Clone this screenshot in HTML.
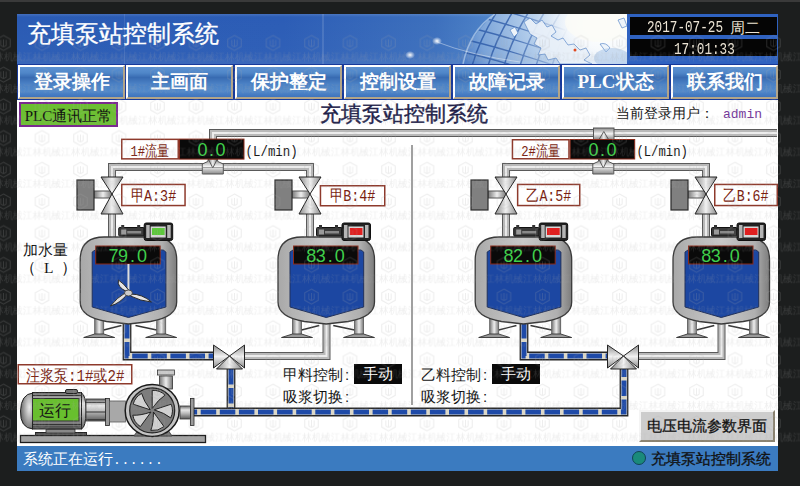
<!DOCTYPE html>
<html><head><meta charset="utf-8">
<style>
html,body{margin:0;padding:0;}
body{width:800px;height:486px;overflow:hidden;background:#1c1e1e;position:relative;font-family:"Liberation Sans",sans-serif;}
.a{position:absolute;white-space:nowrap;}
#screen{position:absolute;left:17px;top:14px;width:761px;height:457px;background:#fff;}
#nav{position:absolute;left:17px;top:64px;width:761px;height:36px;background:#17399a;}
.btn{position:absolute;top:1px;height:34px;width:107px;box-sizing:border-box;border-top:2px solid #fff;border-left:2px solid #fff;border-right:2px solid #b3a588;border-bottom:2px solid #b3a588;
background:linear-gradient(180deg,#5d92d2 0%,#4f86c8 20%,#386bb2 35%,#4a80c4 55%,#5189cb 80%,#3f74bc 100%);
color:#fff;font-weight:bold;font-size:19px;line-height:30px;text-align:center;font-family:"Liberation Serif",serif;}
#status{position:absolute;left:17px;top:446px;width:761px;height:25px;background:#3b7bc0;}
svg{position:absolute;left:0;top:0;}
.t15{font-size:15px;line-height:18px;color:#111;}
</style></head>
<body>
<div class="a" style="left:0;top:0;width:800px;height:2px;background:#3a3a3a"></div>
<div id="screen"></div>
<svg width="800" height="486" viewBox="0 0 800 486"><defs>
<linearGradient id="tb" x1="0" y1="0" x2="1" y2="0"><stop offset="0" stop-color="#2a5bb4"/><stop offset="0.35" stop-color="#2c5db6"/><stop offset="0.55" stop-color="#3d70bd"/><stop offset="0.62" stop-color="#4d82c8"/><stop offset="1" stop-color="#5a8fd0"/></linearGradient>
<linearGradient id="tbv" x1="0" y1="0" x2="0" y2="1"><stop offset="0" stop-color="#fff" stop-opacity="0.12"/><stop offset="0.06" stop-color="#fff" stop-opacity="0"/><stop offset="0.8" stop-color="#fff" stop-opacity="0.02"/><stop offset="1" stop-color="#fff" stop-opacity="0.08"/></linearGradient>
<radialGradient id="globe" cx="0.62" cy="0.12" r="0.6"><stop offset="0" stop-color="#ffffff"/><stop offset="0.25" stop-color="#eef4fa"/><stop offset="0.55" stop-color="#b0cbea"/><stop offset="0.85" stop-color="#7aa3d8"/><stop offset="1" stop-color="#4a7cc6"/></radialGradient>
<radialGradient id="glow" cx="0.5" cy="0.5" r="0.5"><stop offset="0" stop-color="#fff" stop-opacity="1"/><stop offset="1" stop-color="#fff" stop-opacity="0"/></radialGradient>
<clipPath id="tclip"><rect x="17" y="14" width="761" height="50"/></clipPath>
<clipPath id="gclip"><circle cx="580" cy="112" r="130"/></clipPath>
</defs><g clip-path="url(#tclip)"><rect x="17" y="14" width="761" height="50" fill="url(#tb)"/><rect x="17" y="14" width="761" height="50" fill="url(#tbv)"/><rect x="322" y="14" width="2" height="50" fill="#fff" opacity="0.12"/><rect x="124" y="14" width="1" height="50" fill="#fff" opacity="0.10"/><circle cx="580" cy="112" r="130" fill="url(#globe)"/><defs><linearGradient id="gfade" x1="0" y1="0" x2="1" y2="0"><stop offset="0" stop-color="#fff"/><stop offset="0.55" stop-color="#fff"/><stop offset="1" stop-color="#fff" stop-opacity="0"/></linearGradient><mask id="gmask"><rect x="440" y="14" width="130" height="50" fill="url(#gfade)"/></mask></defs><g clip-path="url(#gclip)"><g mask="url(#gmask)" opacity="0.7"><path d="M472,66 Q480,38 498,10" fill="none" stroke="#1f4ea0" stroke-width="1.5"/><path d="M488,66 Q496,38 514,10" fill="none" stroke="#1f4ea0" stroke-width="1.5"/><path d="M504,66 Q512,38 530,10" fill="none" stroke="#1f4ea0" stroke-width="1.5"/><path d="M520,66 Q528,38 546,10" fill="none" stroke="#1f4ea0" stroke-width="1.5"/><path d="M536,66 Q544,38 562,10" fill="none" stroke="#1f4ea0" stroke-width="1.5"/><path d="M552,66 Q560,38 578,10" fill="none" stroke="#1f4ea0" stroke-width="1.5"/><path d="M462,0 Q500,8 565,30" fill="none" stroke="#1f4ea0" stroke-width="1.4"/><path d="M462,13 Q500,21 565,43" fill="none" stroke="#1f4ea0" stroke-width="1.4"/><path d="M462,26 Q500,34 565,56" fill="none" stroke="#1f4ea0" stroke-width="1.4"/><path d="M462,39 Q500,47 565,69" fill="none" stroke="#1f4ea0" stroke-width="1.4"/><path d="M462,52 Q500,60 565,82" fill="none" stroke="#1f4ea0" stroke-width="1.4"/><path d="M462,65 Q500,73 565,95" fill="none" stroke="#1f4ea0" stroke-width="1.4"/><path d="M462,78 Q500,86 565,108" fill="none" stroke="#1f4ea0" stroke-width="1.4"/></g></g><ellipse cx="598" cy="26" rx="62" ry="44" fill="url(#glow)" opacity="1"/><ellipse cx="600" cy="22" rx="35" ry="20" fill="#fbfbf6" opacity="0.8"/><path d="M524,22 L530,18 L536,24 L542,20 L547,27 L552,25 L556,32 L551,36 L558,40 L563,38 L568,45 L574,44 L580,50 L586,48 L590,55 L584,60 L592,64 L560,64 L556,58 L548,60 L545,54 L538,55 L541,48 L534,44 L537,38 L530,34 Z" fill="#eaf1f9" stroke="#4f7fc4" stroke-width="0.7" opacity="0.9"/><path d="M510,30 L515,27 L518,33 L514,37 Z M600,44 Q606,42 610,48 L606,52 Z M618,20 L624,18 L627,26 L622,28 Z" fill="#eef4fa" stroke="#5a88c8" stroke-width="0.7"/><path d="M463,64 Q470,30 495,14" fill="none" stroke="#c8dcf2" stroke-width="1.5" opacity="0.6"/><ellipse cx="612" cy="58" rx="18" ry="10" fill="#9fc0e6" opacity="0.5"/><circle cx="575" cy="50" r="1.5" fill="#e04a20"/><ellipse cx="437" cy="41" rx="5" ry="4" fill="url(#glow)"/><ellipse cx="410" cy="55" rx="5" ry="4" fill="url(#glow)"/><path d="M437,42 Q470,55 520,62" fill="none" stroke="#fff" stroke-width="0.8" opacity="0.5"/><rect x="627" y="14" width="151" height="50" fill="#2f62c0"/></g></svg>
<div class="a" style="left:27px;top:19px;color:#fff;font-size:24px;line-height:30px;-webkit-text-stroke:0.3px #fff;">充填泵站控制系统</div>
<div class="a" style="left:630px;top:17px;width:147px;height:18px;background:#050505;"></div><div class="a" style="left:647px;top:18px;color:#ece4d4;font-size:17px;line-height:18px;"><span style="display:inline-block;font-family:'Liberation Mono',monospace;transform:scaleX(0.745);transform-origin:0 0;width:83px;">2017-07-25</span><span style="display:inline-block;font-size:15px;vertical-align:top;line-height:19px;">周二</span></div>
<div class="a" style="left:630px;top:39px;width:147px;height:17px;background:#050505;"></div><div class="a" style="left:674px;top:40px;color:#ece4d4;font-size:17px;line-height:18px;"><span style="display:inline-block;font-family:'Liberation Mono',monospace;transform:scaleX(0.745);transform-origin:0 0;">17:01:33</span></div>
<div id="nav">
  <div class="btn" style="left:1px">登录操作</div>
  <div class="btn" style="left:109px">主画面</div>
  <div class="btn" style="left:218px">保护整定</div>
  <div class="btn" style="left:327px">控制设置</div>
  <div class="btn" style="left:436px">故障记录</div>
  <div class="btn" style="left:545px">PLC状态</div>
  <div class="btn" style="left:654px">联系我们</div>
</div>
<svg width="800" height="486" viewBox="0 0 800 486"><defs>
<linearGradient id="pg" x1="0" y1="0" x2="1" y2="0"><stop offset="0" stop-color="#777"/><stop offset="0.5" stop-color="#eee"/><stop offset="1" stop-color="#777"/></linearGradient>
<linearGradient id="vg" x1="0" y1="0" x2="1" y2="0"><stop offset="0" stop-color="#8a8a8a"/><stop offset="0.5" stop-color="#f2f2f2"/><stop offset="1" stop-color="#8a8a8a"/></linearGradient>
<linearGradient id="vg2" x1="0" y1="0" x2="0" y2="1"><stop offset="0" stop-color="#8a8a8a"/><stop offset="0.5" stop-color="#f2f2f2"/><stop offset="1" stop-color="#8a8a8a"/></linearGradient>
<linearGradient id="tg" x1="0" y1="0" x2="1" y2="0"><stop offset="0" stop-color="#a8a8a8"/><stop offset="0.15" stop-color="#b4b4b4"/><stop offset="0.5" stop-color="#c8c8c8"/><stop offset="0.85" stop-color="#b0b0b0"/><stop offset="1" stop-color="#7c7c7c"/></linearGradient>
</defs><rect x="411" y="145" width="2" height="260" fill="#a0a0a0"/><path d="M213,167 L213,133 L777,133" fill="none" stroke="#5a5a5a" stroke-width="8" stroke-linejoin="miter"/><path d="M213,167 L213,133 L777,133" fill="none" stroke="#b9b9b9" stroke-width="6" stroke-linejoin="miter"/><path d="M213,167 L213,133 L777,133" fill="none" stroke="#ececec" stroke-width="2" stroke-linejoin="miter"/><path d="M112,178 L112,167 L310,167 L310,178" fill="none" stroke="#5a5a5a" stroke-width="8" stroke-linejoin="miter"/><path d="M112,178 L112,167 L310,167 L310,178" fill="none" stroke="#b9b9b9" stroke-width="6" stroke-linejoin="miter"/><path d="M112,178 L112,167 L310,167 L310,178" fill="none" stroke="#ececec" stroke-width="2" stroke-linejoin="miter"/><path d="M603,133 L603,167" fill="none" stroke="#5a5a5a" stroke-width="8" stroke-linejoin="miter"/><path d="M603,133 L603,167" fill="none" stroke="#b9b9b9" stroke-width="6" stroke-linejoin="miter"/><path d="M603,133 L603,167" fill="none" stroke="#ececec" stroke-width="2" stroke-linejoin="miter"/><path d="M506,178 L506,167 L706,167 L706,178" fill="none" stroke="#5a5a5a" stroke-width="8" stroke-linejoin="miter"/><path d="M506,178 L506,167 L706,167 L706,178" fill="none" stroke="#b9b9b9" stroke-width="6" stroke-linejoin="miter"/><path d="M506,178 L506,167 L706,167 L706,178" fill="none" stroke="#ececec" stroke-width="2" stroke-linejoin="miter"/><path d="M202.3,174 L202.3,164 L207.8,161.5 L208.3,159 L217.3,159 L217.8,161.5 L223.3,164 L223.3,174 Z" fill="url(#vg2)" stroke="#555" stroke-width="1"/><path d="M208.3,159 L212.8,168 L217.3,159 Z" fill="url(#pg)" stroke="#444" stroke-width="0.8"/><line x1="202.3" y1="167.5" x2="223.3" y2="167.5" stroke="#777" stroke-width="0.6"/><path d="M592.8,174 L592.8,164 L598.3,161.5 L598.8,159 L607.8,159 L608.3,161.5 L613.8,164 L613.8,174 Z" fill="url(#vg2)" stroke="#555" stroke-width="1"/><path d="M598.8,159 L603.3,168 L607.8,159 Z" fill="url(#pg)" stroke="#444" stroke-width="0.8"/><line x1="592.8" y1="167.5" x2="613.8" y2="167.5" stroke="#777" stroke-width="0.6"/><rect x="593.5" y="128" width="20.5" height="11.5" fill="url(#vg2)" stroke="#555" stroke-width="1"/><path d="M599,139.5 L603.8,131.5 L608.6,139.5 Z" fill="url(#pg)" stroke="#444" stroke-width="0.8"/><path d="M112,212 L112,237" fill="none" stroke="#5a5a5a" stroke-width="8" stroke-linejoin="miter"/><path d="M112,212 L112,237" fill="none" stroke="#b9b9b9" stroke-width="6" stroke-linejoin="miter"/><path d="M112,212 L112,237" fill="none" stroke="#ececec" stroke-width="2" stroke-linejoin="miter"/><path d="M310,212 L310,237" fill="none" stroke="#5a5a5a" stroke-width="8" stroke-linejoin="miter"/><path d="M310,212 L310,237" fill="none" stroke="#b9b9b9" stroke-width="6" stroke-linejoin="miter"/><path d="M310,212 L310,237" fill="none" stroke="#ececec" stroke-width="2" stroke-linejoin="miter"/><path d="M506,212 L506,237" fill="none" stroke="#5a5a5a" stroke-width="8" stroke-linejoin="miter"/><path d="M506,212 L506,237" fill="none" stroke="#b9b9b9" stroke-width="6" stroke-linejoin="miter"/><path d="M506,212 L506,237" fill="none" stroke="#ececec" stroke-width="2" stroke-linejoin="miter"/><path d="M706,212 L706,237" fill="none" stroke="#5a5a5a" stroke-width="8" stroke-linejoin="miter"/><path d="M706,212 L706,237" fill="none" stroke="#b9b9b9" stroke-width="6" stroke-linejoin="miter"/><path d="M706,212 L706,237" fill="none" stroke="#ececec" stroke-width="2" stroke-linejoin="miter"/><rect x="94" y="191" width="18" height="7" fill="url(#pg)" stroke="#555" stroke-width="1"/><rect x="77" y="180" width="17" height="30" fill="#808080" stroke="#2a2a2a" stroke-width="1.2"/><path d="M101,177 L123,177 L112,194 Z" fill="url(#vg)" stroke="#222" stroke-width="1"/><path d="M101,214 L123,214 L112,194 Z" fill="url(#vg)" stroke="#222" stroke-width="1"/><rect x="292" y="191" width="18" height="7" fill="url(#pg)" stroke="#555" stroke-width="1"/><rect x="275" y="180" width="17" height="30" fill="#808080" stroke="#2a2a2a" stroke-width="1.2"/><path d="M299,177 L321,177 L310,194 Z" fill="url(#vg)" stroke="#222" stroke-width="1"/><path d="M299,214 L321,214 L310,194 Z" fill="url(#vg)" stroke="#222" stroke-width="1"/><rect x="488" y="191" width="18" height="7" fill="url(#pg)" stroke="#555" stroke-width="1"/><rect x="471" y="180" width="17" height="30" fill="#808080" stroke="#2a2a2a" stroke-width="1.2"/><path d="M495,177 L517,177 L506,194 Z" fill="url(#vg)" stroke="#222" stroke-width="1"/><path d="M495,214 L517,214 L506,194 Z" fill="url(#vg)" stroke="#222" stroke-width="1"/><rect x="688" y="191" width="18" height="7" fill="url(#pg)" stroke="#555" stroke-width="1"/><rect x="671" y="180" width="17" height="30" fill="#808080" stroke="#2a2a2a" stroke-width="1.2"/><path d="M695,177 L717,177 L706,194 Z" fill="url(#vg)" stroke="#222" stroke-width="1"/><path d="M695,214 L717,214 L706,194 Z" fill="url(#vg)" stroke="#222" stroke-width="1"/><path d="M127,323 L127,356 L214,356" fill="none" stroke="#262626" stroke-width="8.8" stroke-linejoin="miter"/><path d="M127,323 L127,356 L214,356" fill="none" stroke="#dcd8c8" stroke-width="6.2" stroke-linejoin="miter"/><path d="M127,323 L127,356 L214,356" fill="none" stroke="#1e4aa8" stroke-width="5" stroke-dasharray="15.5 3.6" stroke-dashoffset="0" stroke-linejoin="miter"/><path d="M245,356 L326.5,356 L326.5,323" fill="none" stroke="#5a5a5a" stroke-width="8" stroke-linejoin="miter"/><path d="M245,356 L326.5,356 L326.5,323" fill="none" stroke="#b9b9b9" stroke-width="6" stroke-linejoin="miter"/><path d="M245,356 L326.5,356 L326.5,323" fill="none" stroke="#ececec" stroke-width="2" stroke-linejoin="miter"/><path d="M231,369 L231,412" fill="none" stroke="#262626" stroke-width="8.8" stroke-linejoin="miter"/><path d="M231,369 L231,412" fill="none" stroke="#dcd8c8" stroke-width="6.2" stroke-linejoin="miter"/><path d="M231,369 L231,412" fill="none" stroke="#1e4aa8" stroke-width="5" stroke-dasharray="15.5 3.6" stroke-dashoffset="0" stroke-linejoin="miter"/><path d="M193,412 L624,412 L624,369" fill="none" stroke="#262626" stroke-width="8.8" stroke-linejoin="miter"/><path d="M193,412 L624,412 L624,369" fill="none" stroke="#dcd8c8" stroke-width="6.2" stroke-linejoin="miter"/><path d="M193,412 L624,412 L624,369" fill="none" stroke="#1e4aa8" stroke-width="5" stroke-dasharray="15.5 3.6" stroke-dashoffset="11.4" stroke-linejoin="miter"/><path d="M524,323 L524,356 L608,356" fill="none" stroke="#262626" stroke-width="8.8" stroke-linejoin="miter"/><path d="M524,323 L524,356 L608,356" fill="none" stroke="#dcd8c8" stroke-width="6.2" stroke-linejoin="miter"/><path d="M524,323 L524,356 L608,356" fill="none" stroke="#1e4aa8" stroke-width="5" stroke-dasharray="15.5 3.6" stroke-dashoffset="0" stroke-linejoin="miter"/><path d="M639,356 L721.5,356 L721.5,323" fill="none" stroke="#5a5a5a" stroke-width="8" stroke-linejoin="miter"/><path d="M639,356 L721.5,356 L721.5,323" fill="none" stroke="#b9b9b9" stroke-width="6" stroke-linejoin="miter"/><path d="M639,356 L721.5,356 L721.5,323" fill="none" stroke="#ececec" stroke-width="2" stroke-linejoin="miter"/><path d="M103.7,330 L121.44999999999999,325.5" stroke="#333" stroke-width="1.4"/><rect x="94.7" y="316" width="9" height="19" fill="url(#pg)" stroke="#555" stroke-width="0.8"/><path d="M83.7,337.5 L114.7,337.5 L103.7,334 L94.7,334 Z" fill="#9a9a9a" stroke="#333" stroke-width="0.9"/><path d="M156.7,330 L135.45,325.5" stroke="#333" stroke-width="1.4"/><rect x="156.7" y="316" width="9" height="19" fill="url(#pg)" stroke="#555" stroke-width="0.8"/><path d="M145.7,337.5 L176.7,337.5 L165.7,334 L156.7,334 Z" fill="#9a9a9a" stroke="#333" stroke-width="0.9"/><path d="M80.2,260 Q80.2,237 104.2,237 L152.7,237 Q176.7,237 176.7,260 L176.7,302 Q176.7,317 150.45,321.5 L128.45,324 L106.44999999999999,321.5 Q80.2,317 80.2,302 Z" fill="url(#tg)" stroke="#3a3a3a" stroke-width="1.3"/><path d="M92.2,252 L95.2,250 L163.2,250 L165.89999999999998,252 L165.89999999999998,307 L128.45,317.5 L92.2,307 Z" fill="#1c47a2" stroke="#20305a" stroke-width="1"/><rect x="95.7" y="246" width="64.5" height="18" fill="#0a0a0a" stroke="#8a2a1a" stroke-width="1"/><text x="113.5 123.0 132.5 142.0" y="262.3" text-anchor="middle" font-family='"Liberation Sans", sans-serif' font-size="18" fill="#3fd04a">79.0</text><rect x="127.44999999999999" y="264" width="2" height="29" fill="#ddd"/><path d="M127.44999999999999,292 Q116.44999999999999,287 118.44999999999999,280 Q123.44999999999999,283 129.45,291 Z M127.44999999999999,294 Q120.44999999999999,303 110.44999999999999,306 Q116.44999999999999,298 126.44999999999999,292 Z M130.45,294 Q142.45,294 151.45,302 Q140.45,301 130.45,296 Z" fill="#e4e4e4" stroke="#2a2a2a" stroke-width="1"/><ellipse cx="128.45" cy="293" rx="4" ry="3" fill="#ccc" stroke="#333" stroke-width="0.8"/><rect x="118.7" y="227.5" width="25.5" height="8.5" rx="1" fill="#3a3a3a" stroke="#111" stroke-width="1"/><rect x="121.2" y="229.5" width="5" height="5" fill="#9a9a9a"/><rect x="127.2" y="231" width="14" height="2.5" fill="#888"/><rect x="121.2" y="225" width="3" height="3" fill="#333"/><rect x="137.2" y="225" width="3" height="3" fill="#333"/><rect x="144.2" y="223" width="28.5" height="17.5" rx="2" fill="#222" stroke="#111" stroke-width="1"/><rect x="146.2" y="225" width="3.5" height="13" fill="#b5b5b5"/><rect x="167.2" y="225" width="3.5" height="13" fill="#b5b5b5"/><rect x="150.7" y="226.5" width="15" height="11" fill="#d8d8d8"/><rect x="152.0" y="228" width="12.7" height="7" fill="#5cc83a"/><path d="M301.5,330 L319.25,325.5" stroke="#333" stroke-width="1.4"/><rect x="292.5" y="316" width="9" height="19" fill="url(#pg)" stroke="#555" stroke-width="0.8"/><path d="M281.5,337.5 L312.5,337.5 L301.5,334 L292.5,334 Z" fill="#9a9a9a" stroke="#333" stroke-width="0.9"/><path d="M354.5,330 L333.25,325.5" stroke="#333" stroke-width="1.4"/><rect x="354.5" y="316" width="9" height="19" fill="url(#pg)" stroke="#555" stroke-width="0.8"/><path d="M343.5,337.5 L374.5,337.5 L363.5,334 L354.5,334 Z" fill="#9a9a9a" stroke="#333" stroke-width="0.9"/><path d="M278,260 Q278,237 302,237 L350.5,237 Q374.5,237 374.5,260 L374.5,302 Q374.5,317 348.25,321.5 L326.25,324 L304.25,321.5 Q278,317 278,302 Z" fill="url(#tg)" stroke="#3a3a3a" stroke-width="1.3"/><path d="M290,252 L293,250 L361.0,250 L363.7,252 L363.7,307 L326.25,317.5 L290,307 Z" fill="#1c47a2" stroke="#20305a" stroke-width="1"/><rect x="293.5" y="246" width="64.5" height="18" fill="#0a0a0a" stroke="#8a2a1a" stroke-width="1"/><text x="311.3 320.8 330.3 339.8" y="262.3" text-anchor="middle" font-family='"Liberation Sans", sans-serif' font-size="18" fill="#3fd04a">83.0</text><rect x="316.5" y="227.5" width="25.5" height="8.5" rx="1" fill="#3a3a3a" stroke="#111" stroke-width="1"/><rect x="319" y="229.5" width="5" height="5" fill="#9a9a9a"/><rect x="325" y="231" width="14" height="2.5" fill="#888"/><rect x="319" y="225" width="3" height="3" fill="#333"/><rect x="335" y="225" width="3" height="3" fill="#333"/><rect x="342" y="223" width="28.5" height="17.5" rx="2" fill="#222" stroke="#111" stroke-width="1"/><rect x="344" y="225" width="3.5" height="13" fill="#b5b5b5"/><rect x="365" y="225" width="3.5" height="13" fill="#b5b5b5"/><rect x="348.5" y="226.5" width="15" height="11" fill="#d8d8d8"/><rect x="349.8" y="228" width="12.7" height="7" fill="#e02020"/><path d="M498.7,330 L516.45,325.5" stroke="#333" stroke-width="1.4"/><rect x="489.7" y="316" width="9" height="19" fill="url(#pg)" stroke="#555" stroke-width="0.8"/><path d="M478.7,337.5 L509.7,337.5 L498.7,334 L489.7,334 Z" fill="#9a9a9a" stroke="#333" stroke-width="0.9"/><path d="M551.7,330 L530.45,325.5" stroke="#333" stroke-width="1.4"/><rect x="551.7" y="316" width="9" height="19" fill="url(#pg)" stroke="#555" stroke-width="0.8"/><path d="M540.7,337.5 L571.7,337.5 L560.7,334 L551.7,334 Z" fill="#9a9a9a" stroke="#333" stroke-width="0.9"/><path d="M475.2,260 Q475.2,237 499.2,237 L547.7,237 Q571.7,237 571.7,260 L571.7,302 Q571.7,317 545.45,321.5 L523.45,324 L501.45000000000005,321.5 Q475.2,317 475.2,302 Z" fill="url(#tg)" stroke="#3a3a3a" stroke-width="1.3"/><path d="M487.2,252 L490.2,250 L558.2,250 L560.9000000000001,252 L560.9000000000001,307 L523.45,317.5 L487.2,307 Z" fill="#1c47a2" stroke="#20305a" stroke-width="1"/><rect x="490.7" y="246" width="64.5" height="18" fill="#0a0a0a" stroke="#8a2a1a" stroke-width="1"/><text x="508.5 518.0 527.5 537.0" y="262.3" text-anchor="middle" font-family='"Liberation Sans", sans-serif' font-size="18" fill="#3fd04a">82.0</text><rect x="513.7" y="227.5" width="25.5" height="8.5" rx="1" fill="#3a3a3a" stroke="#111" stroke-width="1"/><rect x="516.2" y="229.5" width="5" height="5" fill="#9a9a9a"/><rect x="522.2" y="231" width="14" height="2.5" fill="#888"/><rect x="516.2" y="225" width="3" height="3" fill="#333"/><rect x="532.2" y="225" width="3" height="3" fill="#333"/><rect x="539.2" y="223" width="28.5" height="17.5" rx="2" fill="#222" stroke="#111" stroke-width="1"/><rect x="541.2" y="225" width="3.5" height="13" fill="#b5b5b5"/><rect x="562.2" y="225" width="3.5" height="13" fill="#b5b5b5"/><rect x="545.7" y="226.5" width="15" height="11" fill="#d8d8d8"/><rect x="547.0" y="228" width="12.7" height="7" fill="#e02020"/><path d="M696.5,330 L714.25,325.5" stroke="#333" stroke-width="1.4"/><rect x="687.5" y="316" width="9" height="19" fill="url(#pg)" stroke="#555" stroke-width="0.8"/><path d="M676.5,337.5 L707.5,337.5 L696.5,334 L687.5,334 Z" fill="#9a9a9a" stroke="#333" stroke-width="0.9"/><path d="M749.5,330 L728.25,325.5" stroke="#333" stroke-width="1.4"/><rect x="749.5" y="316" width="9" height="19" fill="url(#pg)" stroke="#555" stroke-width="0.8"/><path d="M738.5,337.5 L769.5,337.5 L758.5,334 L749.5,334 Z" fill="#9a9a9a" stroke="#333" stroke-width="0.9"/><path d="M673,260 Q673,237 697,237 L745.5,237 Q769.5,237 769.5,260 L769.5,302 Q769.5,317 743.25,321.5 L721.25,324 L699.25,321.5 Q673,317 673,302 Z" fill="url(#tg)" stroke="#3a3a3a" stroke-width="1.3"/><path d="M685,252 L688,250 L756.0,250 L758.7,252 L758.7,307 L721.25,317.5 L685,307 Z" fill="#1c47a2" stroke="#20305a" stroke-width="1"/><rect x="688.5" y="246" width="64.5" height="18" fill="#0a0a0a" stroke="#8a2a1a" stroke-width="1"/><text x="706.3 715.8 725.3 734.8" y="262.3" text-anchor="middle" font-family='"Liberation Sans", sans-serif' font-size="18" fill="#3fd04a">83.0</text><rect x="711.5" y="227.5" width="25.5" height="8.5" rx="1" fill="#3a3a3a" stroke="#111" stroke-width="1"/><rect x="714" y="229.5" width="5" height="5" fill="#9a9a9a"/><rect x="720" y="231" width="14" height="2.5" fill="#888"/><rect x="714" y="225" width="3" height="3" fill="#333"/><rect x="730" y="225" width="3" height="3" fill="#333"/><rect x="737" y="223" width="28.5" height="17.5" rx="2" fill="#222" stroke="#111" stroke-width="1"/><rect x="739" y="225" width="3.5" height="13" fill="#b5b5b5"/><rect x="760" y="225" width="3.5" height="13" fill="#b5b5b5"/><rect x="743.5" y="226.5" width="15" height="11" fill="#d8d8d8"/><rect x="744.8" y="228" width="12.7" height="7" fill="#e02020"/><path d="M213.5,345 L213.5,368 L229.5,356 Z" fill="url(#vg2)" stroke="#222" stroke-width="1"/><path d="M244.5,345 L244.5,368 L229.5,356 Z" fill="url(#vg2)" stroke="#222" stroke-width="1"/><path d="M216.5,369 L242.5,369 L229.5,356 Z" fill="url(#vg)" stroke="#222" stroke-width="1"/><path d="M607.5,345 L607.5,368 L623.5,356 Z" fill="url(#vg2)" stroke="#222" stroke-width="1"/><path d="M638.5,345 L638.5,368 L623.5,356 Z" fill="url(#vg2)" stroke="#222" stroke-width="1"/><path d="M610.5,369 L636.5,369 L623.5,356 Z" fill="url(#vg)" stroke="#222" stroke-width="1"/><defs><linearGradient id="cyl" x1="0" y1="0" x2="0" y2="1"><stop offset="0" stop-color="#6a6a6a"/><stop offset="0.3" stop-color="#e8e8e8"/><stop offset="0.55" stop-color="#bdbdbd"/><stop offset="1" stop-color="#5a5a5a"/></linearGradient><radialGradient id="dome" cx="0.7" cy="0.4" r="0.7"><stop offset="0" stop-color="#eee"/><stop offset="1" stop-color="#666"/></radialGradient></defs><rect x="20.5" y="435.5" width="185" height="7" fill="#a4a4a4" stroke="#1a1a1a" stroke-width="1.3"/><rect x="35.5" y="432.5" width="51" height="3" fill="#555" stroke="#222" stroke-width="1"/><rect x="46" y="429" width="29" height="4" fill="#888" stroke="#333" stroke-width="0.8"/><path d="M138,430 L168,430 L172,436 L134,436 Z" fill="#777" stroke="#333" stroke-width="0.8"/><path d="M33,393 L33,429 Q20,428 20.5,411 Q21,394 33,393 Z" fill="url(#dome)" stroke="#222" stroke-width="1"/><rect x="32.5" y="392.5" width="49" height="36.5" fill="url(#cyl)" stroke="#222" stroke-width="1"/><path d="M81.5,393 Q86,395 86,411 Q86,427 81.5,429 Z" fill="url(#cyl)" stroke="#222" stroke-width="1"/><rect x="65.5" y="389.5" width="12" height="4" rx="1.5" fill="#777" stroke="#222" stroke-width="1"/><line x1="33" y1="395.5" x2="81" y2="395.5" stroke="#333" stroke-width="1"/><line x1="33" y1="424.5" x2="81" y2="424.5" stroke="#333" stroke-width="1"/><line x1="33" y1="426.8" x2="81" y2="426.8" stroke="#444" stroke-width="0.8"/><rect x="32.5" y="398.5" width="46.5" height="22.5" fill="#68bf2e" stroke="#333" stroke-width="1"/><text x="55" y="415.5" text-anchor="middle" font-family='"Liberation Sans", sans-serif' font-size="16" fill="#111">运行</text><rect x="86" y="399" width="20" height="22" fill="url(#cyl)" stroke="#333" stroke-width="0.8"/><line x1="86" y1="402.5" x2="106" y2="402.5" stroke="#333" stroke-width="0.8"/><line x1="86" y1="412" x2="106" y2="412" stroke="#333" stroke-width="1"/><line x1="86" y1="419.5" x2="106" y2="419.5" stroke="#333" stroke-width="0.8"/><rect x="105.5" y="398.5" width="4" height="27" fill="#999" stroke="#222" stroke-width="0.8"/><rect x="109.5" y="401" width="16" height="21" fill="#a8a8a8" stroke="#555" stroke-width="0.8"/><rect x="159.5" y="376" width="13" height="13" fill="url(#pg)" stroke="#333" stroke-width="0.8"/><rect x="157.5" y="370" width="17" height="5" fill="#ccc" stroke="#333" stroke-width="0.8"/><ellipse cx="152.2" cy="410.4" rx="27" ry="26" fill="#c4c4c4" stroke="#1a1a1a" stroke-width="1.5"/><circle cx="152.2" cy="410.4" r="22.5" fill="#7d7d7d" stroke="#222" stroke-width="1.2"/><path d="M152.2,408.4 L152.2,390.4 Q159.7,389.9 165.1,395.1 Q158.7,399.1 152.2,408.4 Z M154.1,409.8 L171.2,404.2 Q174.0,411.2 170.7,417.9 Q164.9,413.1 154.1,409.8 Z M153.4,412.0 L164.0,426.6 Q158.2,431.4 150.8,430.4 Q153.6,423.3 153.4,412.0 Z M151.0,412.0 L140.4,426.6 Q134.1,422.6 132.8,415.2 Q140.3,415.7 151.0,412.0 Z M150.3,409.8 L133.2,404.2 Q135.0,397.0 141.6,393.4 Q143.5,400.7 150.3,409.8 Z" fill="#d2d2d2" stroke="#222" stroke-width="1"/><rect x="180" y="406" width="11" height="13" fill="url(#cyl)" stroke="#333" stroke-width="0.8"/><rect x="190.5" y="398.5" width="3.5" height="27" fill="#999" stroke="#222" stroke-width="0.8"/><rect x="121.75" y="139.35" width="56.5" height="19.5" fill="#fff" stroke="#8e3a2c" stroke-width="1.5"/><text x="150.0" y="155.5" text-anchor="middle" font-family='"Liberation Mono", monospace' font-size="15" fill="#7a1e10" textLength="39" lengthAdjust="spacingAndGlyphs">1#流量</text><rect x="179.5" y="139.1" width="64.5" height="20" fill="#0a0a0a" stroke="#8a2a1a" stroke-width="1"/><text x="202.5 211.5 220.5" y="156.0" text-anchor="middle" font-family='"Liberation Sans", sans-serif' font-size="18" fill="#3fd04a">0.0</text><text x="245.6" y="155.5" font-family='"Liberation Mono", monospace' font-size="15" fill="#111" textLength="52" lengthAdjust="spacingAndGlyphs">(L/min)</text><rect x="512.45" y="139.75" width="56.5" height="19.0" fill="#fff" stroke="#8e3a2c" stroke-width="1.5"/><text x="540.7" y="155.5" text-anchor="middle" font-family='"Liberation Mono", monospace' font-size="15" fill="#7a1e10" textLength="39" lengthAdjust="spacingAndGlyphs">2#流量</text><rect x="570.1" y="139.5" width="64.6" height="19.5" fill="#0a0a0a" stroke="#8a2a1a" stroke-width="1"/><text x="593.6 602.6 611.6" y="155.9" text-anchor="middle" font-family='"Liberation Sans", sans-serif' font-size="18" fill="#3fd04a">0.0</text><text x="636.4" y="155.5" font-family='"Liberation Mono", monospace' font-size="15" fill="#111" textLength="51.5" lengthAdjust="spacingAndGlyphs">(L/min)</text><rect x="121.75" y="184.45" width="63.3" height="21.1" fill="#fff" stroke="#8e3a2c" stroke-width="1.5"/><text x="153.4" y="201.3" text-anchor="middle" font-family='"Liberation Mono", monospace' font-size="16" fill="#7a1e10" textLength="45.6" lengthAdjust="spacingAndGlyphs">甲A:3#</text><rect x="320.45" y="185.75" width="64.3" height="20.0" fill="#fff" stroke="#8e3a2c" stroke-width="1.5"/><text x="352.59999999999997" y="201.3" text-anchor="middle" font-family='"Liberation Mono", monospace' font-size="16" fill="#7a1e10" textLength="45.6" lengthAdjust="spacingAndGlyphs">甲B:4#</text><rect x="517.65" y="184.45" width="62.1" height="21.1" fill="#fff" stroke="#8e3a2c" stroke-width="1.5"/><text x="548.6999999999999" y="201.3" text-anchor="middle" font-family='"Liberation Mono", monospace' font-size="16" fill="#7a1e10" textLength="45.1" lengthAdjust="spacingAndGlyphs">乙A:5#</text><rect x="714.75" y="184.45" width="62.5" height="21.1" fill="#fff" stroke="#8e3a2c" stroke-width="1.5"/><text x="746.0" y="201.3" text-anchor="middle" font-family='"Liberation Mono", monospace' font-size="16" fill="#7a1e10" textLength="45.1" lengthAdjust="spacingAndGlyphs">乙B:6#</text><rect x="18.25" y="364.75" width="113.5" height="19.0" fill="#fff" stroke="#8e3a2c" stroke-width="1.5"/><text x="75.0" y="381" text-anchor="middle" font-family='"Liberation Mono", monospace' font-size="16" fill="#7a1e10" textLength="99" lengthAdjust="spacingAndGlyphs">注浆泵:1#或2#</text></svg>
<div class="a" style="left:19px;top:102px;width:99px;height:25px;box-sizing:border-box;border:2px solid #7a2a90;background:#6cbf32;color:#111;font-family:'Liberation Serif',serif;font-size:15px;line-height:25px;text-align:center;">PLC通讯正常</div>
<div class="a" style="left:320px;top:102px;color:#202048;font-size:21px;line-height:24px;-webkit-text-stroke:0.4px #202048;">充填泵站控制系统</div>
<div class="a" style="left:616px;top:104px;font-size:14px;line-height:18px;color:#111;">当前登录用户：<span style="margin-left:9px;font-family:'Liberation Mono',monospace;font-size:13px;color:#74389a;">admin</span></div>
<div class="a t15" style="left:23px;top:241px;">加水量</div>
<div class="a" style="left:20px;top:258px;color:#111;font-size:15.5px;line-height:20px;letter-spacing:2px;font-family:'Liberation Serif',serif;">（ L ）</div>
<div class="a t15" style="left:283px;top:366px;">甲料控制<span style="margin-left:2px">:</span></div>
<div class="a" style="left:354px;top:364px;width:48px;height:20px;background:#0a0a0a;color:#fff;font-size:15px;line-height:20px;text-align:center;">手动</div>
<div class="a t15" style="left:283px;top:388px;">吸浆切换<span style="margin-left:2px">:</span></div>
<div class="a t15" style="left:421px;top:366px;">乙料控制<span style="margin-left:2px">:</span></div>
<div class="a" style="left:492px;top:364px;width:48px;height:20px;background:#0a0a0a;color:#fff;font-size:15px;line-height:20px;text-align:center;">手动</div>
<div class="a t15" style="left:421px;top:388px;">吸浆切换<span style="margin-left:2px">:</span></div>
<div class="a" style="left:639px;top:410px;width:136px;height:32px;box-sizing:border-box;border-top:2px solid #f4f4f4;border-left:2px solid #f4f4f4;border-right:2px solid #8a8270;border-bottom:2px solid #8a8270;background:#cdcdcd;color:#111;font-size:15px;line-height:28px;text-align:center;-webkit-text-stroke:0.3px #111;">电压电流参数界面</div>
<div id="status">
  <div class="a" style="left:6px;top:4px;color:#fff;font-size:14.5px;line-height:18px;">系统正在运行<span style="font-family:'Liberation Mono',monospace;font-size:13px;letter-spacing:0.6px;">......</span></div>
  <div class="a" style="left:615px;top:5px;width:14px;height:14px;border-radius:50%;background:#1a8a7a;box-sizing:border-box;border:1px solid #145;"></div>
  <div class="a" style="left:634px;top:4px;color:#111;font-size:15.3px;line-height:18px;-webkit-text-stroke:0.3px #111;">充填泵站控制系统</div>
</div>
<svg width="800" height="486" viewBox="0 0 800 486" style="pointer-events:none"><defs><pattern id="wmp" x="22.75" y="31.5" width="38.5" height="31.7" patternUnits="userSpaceOnUse"><path d="M19.25,4 L26,7.8 L26,15.2 L19.25,19 L12.5,15.2 L12.5,7.8 Z" fill="none" stroke="#a8a8a8" stroke-width="1.1"/><path d="M16.6,8.5 L16.6,14 Q19.25,16.5 21.9,14 L21.9,8.5 M19.25,8 L19.25,15" fill="none" stroke="#a8a8a8" stroke-width="1"/><text x="19.25" y="29" text-anchor="middle" font-size="9.8" fill="#a8a8a8" textLength="38.5" lengthAdjust="spacingAndGlyphs">江林机械</text></pattern></defs><rect x="0" y="31.5" width="800" height="412" fill="url(#wmp)" opacity="0.2"/></svg>
</body></html>
